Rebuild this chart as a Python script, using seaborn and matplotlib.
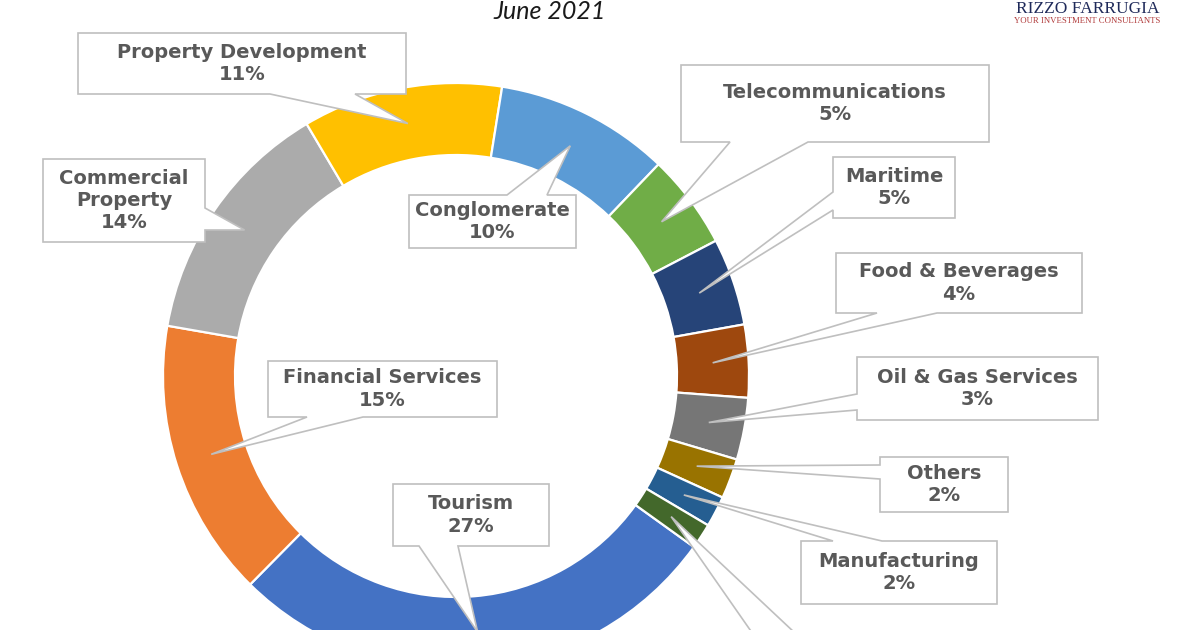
import numpy as np
import matplotlib
matplotlib.use('Agg')
import matplotlib.pyplot as plt
from matplotlib.patches import Polygon
import seaborn as sns

# Sector weights (clockwise, Excel series order)
sectors = ['Tourism', 'Financial Services', 'Commercial\nProperty', 'Property Development',
           'Conglomerate', 'Telecommunications', 'Maritime', 'Food & Beverages',
           'Oil & Gas Services', 'Others', 'Manufacturing', None]
weights = [27.4, 15.3, 13.7, 11.0, 9.6, 5.2, 4.8, 4.0, 3.4, 2.2, 1.7, 1.4]
pct_labels = ['27%', '15%', '14%', '11%', '10%', '5%', '5%', '4%', '3%', '2%', '2%', '']
colors = ['#4472C4', '#ED7D31', '#ABABAB', '#FFC000', '#5B9BD5', '#70AD47',
          '#264478', '#9E480E', '#767676', '#997300', '#255E91', '#43682B']

# callout boxes in pixel space: x0, y0, x1, y1, side of the pointer, pointer base a, b
boxes = [
    (393, 484, 549, 546, 'bottom', 419, 458),
    (268, 361, 497, 417, 'bottom', 307, 363),
    (43, 159, 205, 242, 'right', 208, 230),
    (78, 33, 406, 94, 'bottom', 270, 355),
    (409, 195, 576, 248, 'top', 507, 547),
    (681, 65, 989, 142, 'bottom', 730, 808),
    (833, 157, 955, 218, 'left', 192, 210),
    (836, 253, 1082, 313, 'bottom', 877, 937),
    (857, 357, 1098, 420, 'left', 394, 410),
    (880, 457, 1008, 512, 'left', 465, 479),
    (801, 541, 997, 604, 'top', 833, 882),
    (740, 680, 960, 740, 'top', 785, 845),
]

W, H = 1200, 630
cx, cy = 456, H - 376
R_OUT, RING = 293, 72

sns.set_theme(style='white')
plt.rcParams['font.family'] = ['DejaVu Sans']

fig = plt.figure(figsize=(12, 6.3), dpi=100)
ax = fig.add_axes([0, 0, 1, 1])

wedges, _ = ax.pie(weights, colors=colors, startangle=90 - 125.7, counterclock=False,
                   radius=R_OUT, center=(cx, cy),
                   wedgeprops=dict(width=RING, edgecolor='white', linewidth=1.6))


def callout(box, tip):
    x0, y0, x1, y1, side, a, b = box
    y0, y1 = H - y0, H - y1  # to data coords (y0 = top)
    if side == 'top':
        pts = [(x0, y0), (a, y0), tip, (b, y0), (x1, y0), (x1, y1), (x0, y1)]
    elif side == 'bottom':
        pts = [(x0, y0), (x1, y0), (x1, y1), (b, y1), tip, (a, y1), (x0, y1)]
    elif side == 'right':
        pts = [(x0, y0), (x1, y0), (x1, H - a), tip, (x1, H - b), (x1, y1), (x0, y1)]
    else:
        pts = [(x0, y0), (x1, y0), (x1, y1), (x0, y1), (x0, H - b), tip, (x0, H - a)]
    ax.add_patch(Polygon(pts, closed=True, facecolor='white', edgecolor='#BFBFBF',
                         linewidth=1.2, zorder=3))
    return (x0 + x1) / 2, (y0 + y1) / 2


r_mid = R_OUT - RING / 2
for w, name, pct, box in zip(wedges, sectors, pct_labels, boxes):
    mid = np.deg2rad((w.theta1 + w.theta2) / 2)
    tip = (cx + r_mid * np.cos(mid), cy + r_mid * np.sin(mid))
    tx, ty = callout(box, tip)
    if name:
        ax.text(tx, ty, f'{name}\n{pct}', ha='center', va='center', fontsize=14,
                fontweight='bold', color='#595959', linespacing=1.22, zorder=4)

# title + logo sit right at the top edge
ax.text(550, H - 19, 'June 2021', ha='center', va='baseline', fontsize=18,
        style='italic', color='#1a1a1a', family=['Lato', 'DejaVu Sans'])
ax.text(1160, H - 13, 'RIZZO FARRUGIA', ha='right', va='baseline', fontsize=12.5,
        color='#1F2A5A', family=['Liberation Serif'])
ax.text(1160, H - 21, 'YOUR INVESTMENT CONSULTANTS', ha='right', va='center', fontsize=6.3,
        color='#B03A3A', family=['Liberation Serif'])

ax.set_xlim(0, W)
ax.set_ylim(0, H)
ax.set_aspect('equal')
ax.axis('off')

fig.savefig('out.png', dpi=100, facecolor='white')
